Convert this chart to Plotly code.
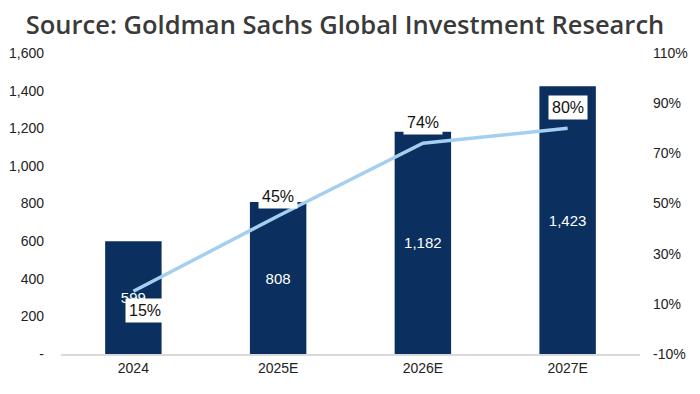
import plotly.graph_objects as go

categories = ["2024", "2025E", "2026E", "2027E"]
bar_values = [599, 808, 1182, 1423]
bar_labels = ["599", "808", "1,182", "1,423"]
pct_values = [15, 45, 74, 80]
pct_labels = ["15%", "45%", "74%", "80%"]
left_tickvals = [0, 200, 400, 600, 800, 1000, 1200, 1400, 1600]
left_ticktext = ["-", "200", "400", "600", "800", "1,000", "1,200", "1,400", "1,600"]
right_tickvals = [-10, 10, 30, 50, 70, 90, 110]
right_ticktext = ["-10%", "10%", "30%", "50%", "70%", "90%", "110%"]

NAVY = "#0B2F5E"
LIGHT = "#A3CFF0"
TICKFONT = dict(family="Liberation Sans, Arial, sans-serif", size=14, color="#222222")

fig = go.Figure()
fig.add_trace(go.Bar(
    x=categories, y=bar_values, text=bar_labels, textposition="inside",
    insidetextanchor="middle",
    textfont=dict(family="Liberation Sans, Arial, sans-serif", size=15, color="white"),
    marker=dict(color=NAVY, line=dict(width=0)), width=0.39, yaxis="y",
    showlegend=False,
))
fig.add_trace(go.Scatter(
    x=categories, y=pct_values, mode="lines", line=dict(color=LIGHT, width=3.5),
    yaxis="y2", showlegend=False,
))

# percentage labels in white boxes (x given as category index)
offsets = [(12, -19), (0, 20), (0, 21), (0, 21)]
for i, (v, t, (dx, dy)) in enumerate(zip(pct_values, pct_labels, offsets)):
    fig.add_annotation(
        x=i, y=v, yref="y2", xref="x", text=t, showarrow=False,
        xshift=dx, yshift=dy, bgcolor="white", borderpad=3,
        font=dict(family="Liberation Sans, Arial, sans-serif", size=16, color="#111111"),
    )

# figure sized to the visible page area (page body has an 8px margin)
fig.update_layout(
    width=692, height=386,
    margin=dict(l=53, r=60, t=45, b=40),
    paper_bgcolor="white", plot_bgcolor="white",
    title=dict(
        text="Source: Goldman Sachs Global Investment Research",
        x=0.487, xanchor="center", y=0.956, yanchor="middle", yref="container",
        font=dict(family="Open Sans, sans-serif", size=25.5, weight=600, color="#3a3a3a"),
    ),
    xaxis=dict(
        type="category", range=[-0.5, len(categories) - 0.5], automargin=False,
        showgrid=False, showline=True, linecolor="#d9d9d9", linewidth=1.5,
        ticks="", tickfont=TICKFONT, zeroline=False,
    ),
    yaxis=dict(
        range=[0, 1600], tickvals=left_tickvals, ticktext=left_ticktext,
        automargin=False,
        showgrid=False, zeroline=False, showline=False, tickfont=TICKFONT,
        ticks="", ticklabelstandoff=16,
    ),
    yaxis2=dict(
        range=[-10, 110], tickvals=right_tickvals, ticktext=right_ticktext,
        automargin=False,
        overlaying="y", side="right", showgrid=False, zeroline=False,
        showline=False, tickfont=TICKFONT, ticks="", ticklabelstandoff=12,
    ),
)

fig.write_html("out.html")
